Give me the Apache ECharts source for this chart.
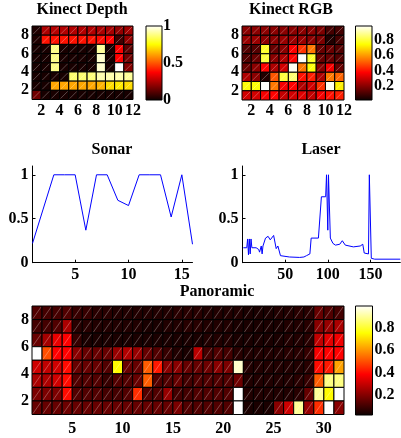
<!DOCTYPE html>
<html>
<head>
<meta charset="utf-8">
<script src="https://cdn.jsdelivr.net/npm/echarts@6/dist/echarts.min.js"></script>
<style>
html, body { margin: 0; padding: 0; background: #fff; }
#chart { width: 401px; height: 438px; }
</style>
</head>
<body>
<div id="chart"></div>
<script>
// heatmap values, top row first (row 8 at the top)
var depthRows = [
  [0.03, 0.24, 0.25, 0.25, 0.25, 0.25, 0.25, 0.24, 0.23, 0.20, 0.22],
  [0.03, 0.40, 0.40, 0.40, 0.40, 0.40, 0.40, 0.39, 0.37, 0.08, 0.20],
  [0.02, 0.02, 0.88, 0.02, 0.02, 0.02, 0.02, 0.90, 0.02, 0.35, 0.12],
  [0.02, 0.02, 0.88, 0.02, 0.02, 0.02, 0.02, 0.95, 0.02, 0.37, 0.15],
  [0.02, 0.02, 0.88, 0.02, 0.02, 0.02, 0.02, 0.95, 0.02, 1.00, 0.18],
  [0.02, 0.02, 0.02, 0.02, 0.86, 0.86, 0.87, 0.92, 0.92, 0.92, 0.90],
  [0.02, 0.02, 0.62, 0.62, 0.62, 0.62, 0.62, 0.64, 0.70, 0.72, 0.70],
  [0.15, 0.02, 0.02, 0.02, 0.02, 0.02, 0.02, 0.02, 0.02, 0.02, 0.02]
];
var rgbRows = [
  [0.20, 0.20, 0.20, 0.20, 0.20, 0.20, 0.20, 0.20, 0.18, 0.10, 0.10],
  [0.22, 0.22, 0.20, 0.20, 0.22, 0.22, 0.22, 0.20, 0.18, 0.05, 0.10],
  [0.12, 0.12, 0.78, 0.15, 0.20, 0.36, 0.45, 0.55, 0.15, 0.15, 0.12],
  [0.12, 0.15, 0.80, 0.20, 0.25, 0.38, 0.98, 0.78, 0.15, 0.15, 0.12],
  [0.15, 0.20, 0.38, 0.25, 0.30, 0.97, 0.55, 0.75, 0.20, 0.35, 0.15],
  [0.25, 0.20, 0.05, 0.50, 0.80, 0.85, 0.40, 0.42, 0.25, 0.55, 0.52],
  [0.75, 0.75, 0.98, 0.55, 0.35, 0.38, 0.25, 0.30, 0.45, 0.97, 0.72],
  [0.30, 0.30, 0.35, 0.38, 0.28, 0.30, 0.32, 0.28, 0.35, 0.40, 0.42]
];
var panoRows = [
  [0.12, 0.10, 0.10, 0.12, 0.08, 0.08, 0.06, 0.06, 0.05, 0.05, 0.05, 0.05, 0.05, 0.05, 0.06, 0.06, 0.06, 0.05, 0.05, 0.05, 0.05, 0.04, 0.04, 0.04, 0.05, 0.05, 0.06, 0.06, 0.15, 0.12, 0.10],
  [0.10, 0.10, 0.12, 0.25, 0.06, 0.06, 0.05, 0.05, 0.05, 0.05, 0.05, 0.04, 0.04, 0.05, 0.05, 0.06, 0.06, 0.05, 0.05, 0.05, 0.04, 0.04, 0.04, 0.04, 0.04, 0.05, 0.05, 0.06, 0.20, 0.22, 0.25],
  [0.15, 0.24, 0.34, 0.37, 0.08, 0.04, 0.04, 0.04, 0.04, 0.04, 0.04, 0.04, 0.04, 0.04, 0.04, 0.04, 0.04, 0.05, 0.05, 0.05, 0.04, 0.04, 0.04, 0.04, 0.04, 0.05, 0.05, 0.06, 0.28, 0.33, 0.35],
  [1.00, 0.50, 0.38, 0.38, 0.20, 0.15, 0.15, 0.15, 0.22, 0.26, 0.22, 0.15, 0.12, 0.08, 0.05, 0.04, 0.27, 0.10, 0.12, 0.10, 0.06, 0.05, 0.05, 0.05, 0.05, 0.06, 0.06, 0.08, 0.36, 0.38, 0.38],
  [0.30, 0.28, 0.30, 0.40, 0.15, 0.15, 0.15, 0.12, 0.75, 0.15, 0.15, 0.52, 0.42, 0.20, 0.20, 0.15, 0.15, 0.16, 0.20, 0.18, 0.95, 0.05, 0.05, 0.05, 0.05, 0.05, 0.05, 0.06, 0.40, 0.42, 0.62],
  [0.25, 0.25, 0.30, 0.40, 0.12, 0.12, 0.12, 0.08, 0.12, 0.12, 0.15, 0.52, 0.12, 0.12, 0.15, 0.10, 0.12, 0.12, 0.12, 0.12, 0.16, 0.05, 0.05, 0.05, 0.05, 0.05, 0.06, 0.08, 0.52, 0.88, 0.88],
  [0.18, 0.18, 0.18, 0.40, 0.12, 0.12, 0.12, 0.10, 0.10, 0.12, 0.45, 0.12, 0.12, 0.22, 0.10, 0.10, 0.12, 0.12, 0.12, 0.12, 1.00, 0.05, 0.05, 0.05, 0.05, 0.05, 0.06, 0.15, 0.90, 0.75, 1.00],
  [0.15, 0.15, 0.15, 0.16, 0.15, 0.15, 0.15, 0.15, 0.15, 0.15, 0.15, 0.15, 0.15, 0.15, 0.18, 0.12, 0.12, 0.12, 0.12, 0.12, 1.00, 0.04, 0.04, 0.04, 0.20, 0.30, 0.90, 0.22, 0.45, 1.00, 0.20]
];

var depthClim = [0, 1];
var rgbClim = [0.017, 0.983];
var panoClim = [0.017, 1.0];

var sonarX = [1, 2, 3, 4, 5, 6, 7, 8, 9, 10, 11, 12, 13, 14, 15, 16];
var sonarY = [0.22, 0.61, 1, 1, 1, 0.37, 1, 1, 0.71, 0.65, 1, 1, 1, 0.52, 1, 0.21];

var laserX = [1, 5, 6, 7, 8, 9, 10, 11, 13, 16, 19, 20, 22, 23, 24, 27, 30, 32.5, 34, 36.5, 37.5, 39.5, 41.5, 43, 44.5,
  46, 55, 67, 72, 75, 79, 80.5, 89, 92.5, 97.5, 98.5, 99.2, 100, 100.8, 101.5, 103, 106, 109, 114, 117, 118.5, 120.5,
  130, 138, 141, 142.7, 147.7, 148.7, 149.2, 151, 155, 185];
var laserY = [0.17, 0.17, 0.27, 0.09, 0.27, 0.10, 0.27, 0.17, 0.18, 0.17, 0.15, 0.12, 0.19, 0.10, 0.19, 0.28, 0.30, 0.26, 0.24, 0.31, 0.32, 0.16, 0.19, 0.17, 0.08,
  0.07, 0.065, 0.06, 0.065, 0.08, 0.10, 0.28, 0.28, 0.75, 0.75, 1, 1, 0.37, 1, 1, 0.28, 0.22, 0.20, 0.21, 0.25, 0.27, 0.20,
  0.18, 0.19, 0.21, 0.11, 0.10, 1, 1, 0.05, 0.04, 0.04];

var cellXTicks = [2, 4, 6, 8, 10, 12];
var cellYTicks = [2, 4, 6, 8];
var panoXTicks = [5, 10, 15, 20, 25, 30];
var depthBarTicks = [0, 0.5, 1];
var rgbBarTicks = [0.2, 0.4, 0.6, 0.8];
var panoBarTicks = [0.2, 0.4, 0.6, 0.8];
var lineYTicks = [0, 0.5, 1];
var sonarXTicks = [5, 10, 15];
var laserXTicks = [50, 100, 150];

// MATLAB "hot" colormap
function hot(t) {
  t = Math.max(0, Math.min(1, t));
  var r = Math.min(1, t / 0.375 + 0.04);
  var g = Math.max(0, Math.min(1, (t - 0.375) / 0.375));
  var b = Math.max(0, Math.min(1, (t - 0.75) / 0.25));
  return 'rgb(' + Math.round(r * 255) + ',' + Math.round(g * 255) + ',' + Math.round(b * 255) + ')';
}

function toCells(rows) {
  var out = [];
  rows.forEach(function (row, i) {
    row.forEach(function (v, j) {
      out.push([j + 1, rows.length - i, v]);
    });
  });
  return out;
}

function cellRenderer(clim) {
  return function (params, api) {
    var x = api.value(0), y = api.value(1), v = api.value(2);
    var p0 = api.coord([x, y]);
    var p1 = api.coord([x + 1, y + 1]);
    return {
      type: 'group',
      children: [
        {
          type: 'rect',
          shape: { x: p0[0], y: p1[1], width: p1[0] - p0[0], height: p0[1] - p1[1] },
          style: { fill: hot((v - clim[0]) / (clim[1] - clim[0])), stroke: '#000', lineWidth: 1 }
        },
        {
          type: 'line',
          shape: { x1: p0[0] + 1, y1: p0[1] - 1, x2: p1[0] - 1, y2: p1[1] + 1 },
          style: { stroke: 'rgba(255,255,255,0.4)', lineWidth: 0.7 }
        }
      ]
    };
  };
}

function barRenderer(params, api) {
  var p0 = api.coord([0, api.value(0)]);
  var p1 = api.coord([1, api.value(1)]);
  return {
    type: 'rect',
    shape: { x: p0[0], y: p1[1], width: p1[0] - p0[0], height: p0[1] - p1[1] },
    style: {
      fill: new echarts.graphic.LinearGradient(0, 1, 0, 0, [
        { offset: 0, color: hot(0) },
        { offset: 0.375, color: '#ff0000' },
        { offset: 0.75, color: '#ffff00' },
        { offset: 1, color: '#ffffff' }
      ]),
      stroke: '#000',
      lineWidth: 1
    }
  };
}

var font = { color: '#000', fontFamily: 'Liberation Serif', fontWeight: 'bold', fontSize: 16 };

function labelStyle(ticks, margin) {
  return Object.assign({
    customValues: ticks, margin: margin, hideOverlap: false,
    showMinLabel: true, showMaxLabel: true
  }, font);
}

// axis without line (heatmaps, colorbars)
function plainAxis(grid, min, max, ticks, margin, pos) {
  return {
    type: 'value', gridIndex: grid, min: min, max: max, position: pos,
    show: ticks !== null,
    axisLine: { show: false },
    axisTick: { show: false },
    splitLine: { show: false },
    axisLabel: ticks ? labelStyle(ticks, margin) : { show: false }
  };
}

// axis for the line plots
function lineAxis(grid, min, max, ticks, margin) {
  return {
    type: 'value', gridIndex: grid, min: min, max: max,
    axisLine: { show: true, lineStyle: { color: '#000', width: 1 } },
    axisTick: { show: true, inside: true, length: 3, customValues: ticks, lineStyle: { color: '#000' } },
    splitLine: { show: false },
    axisLabel: labelStyle(ticks, margin)
  };
}

function title(text, x, y) {
  return { text: text, left: x, top: y, textAlign: 'center', padding: 0, textStyle: font };
}

// the RGB colorbar labels sit close together: spread them over two axes so none gets dropped
var rgbTicksA = rgbBarTicks.filter(function (v, i) { return i % 2 === 0; });
var rgbTicksB = rgbBarTicks.filter(function (v, i) { return i % 2 === 1; });

var option = {
  animation: false,
  backgroundColor: '#fff',
  title: [
    title('Kinect Depth', 82, 2),
    title('Kinect RGB', 291, 2),
    title('Sonar', 112, 142),
    title('Laser', 321, 142),
    title('Panoramic', 217, 284)
  ],
  grid: [
    { left: 32, top: 26, width: 101, height: 73.5 },
    { left: 146, top: 26, width: 16, height: 74 },
    { left: 242, top: 26, width: 102, height: 74 },
    { left: 355.5, top: 26, width: 16.5, height: 74 },
    { left: 32.5, top: 166, width: 160, height: 96.7 },
    { left: 242.5, top: 166, width: 157.8, height: 96.7 },
    { left: 32, top: 306, width: 312, height: 108.5 },
    { left: 355.5, top: 306, width: 17, height: 109 }
  ],
  xAxis: [
    plainAxis(0, 1, 12, cellXTicks, 3),
    plainAxis(1, 0, 1, null),
    plainAxis(2, 1, 12, cellXTicks, 3),
    plainAxis(3, 0, 1, null),
    lineAxis(4, 1, 16, sonarXTicks, 4),
    lineAxis(5, 0, 185, laserXTicks, 4),
    plainAxis(6, 1, 32, panoXTicks, 6),
    plainAxis(7, 0, 1, null)
  ],
  yAxis: [
    plainAxis(0, 1, 9, cellYTicks, 3),
    plainAxis(1, depthClim[0], depthClim[1], depthBarTicks, 1, 'right'),
    plainAxis(2, 1, 9, cellYTicks, 3),
    plainAxis(3, rgbClim[0], rgbClim[1], rgbTicksA, 2, 'right'),
    lineAxis(4, 0, 1.1, lineYTicks, 4),
    lineAxis(5, 0, 1.1, lineYTicks, 4),
    plainAxis(6, 1, 9, cellYTicks, 3),
    plainAxis(7, panoClim[0], panoClim[1], panoBarTicks, 2, 'right'),
    Object.assign(plainAxis(3, rgbClim[0], rgbClim[1], rgbTicksB, 2, 'right'), { offset: 0 })
  ],
  series: [
    { type: 'custom', xAxisIndex: 0, yAxisIndex: 0, renderItem: cellRenderer(depthClim), data: toCells(depthRows) },
    { type: 'custom', xAxisIndex: 1, yAxisIndex: 1, renderItem: barRenderer, data: [depthClim] },
    { type: 'custom', xAxisIndex: 2, yAxisIndex: 2, renderItem: cellRenderer(rgbClim), data: toCells(rgbRows) },
    { type: 'custom', xAxisIndex: 3, yAxisIndex: 3, renderItem: barRenderer, data: [rgbClim] },
    {
      type: 'line', xAxisIndex: 4, yAxisIndex: 4, showSymbol: false,
      lineStyle: { color: '#0000ff', width: 1 },
      data: sonarX.map(function (x, i) { return [x, sonarY[i]]; })
    },
    {
      type: 'line', xAxisIndex: 5, yAxisIndex: 5, showSymbol: false,
      lineStyle: { color: '#0000ff', width: 1 },
      data: laserX.map(function (x, i) { return [x, laserY[i]]; })
    },
    { type: 'custom', xAxisIndex: 6, yAxisIndex: 6, renderItem: cellRenderer(panoClim), data: toCells(panoRows) },
    { type: 'custom', xAxisIndex: 7, yAxisIndex: 7, renderItem: barRenderer, data: [panoClim] }
  ]
};

var myChart = echarts.init(document.getElementById('chart'));
myChart.setOption(option);
</script>
</body>
</html>
